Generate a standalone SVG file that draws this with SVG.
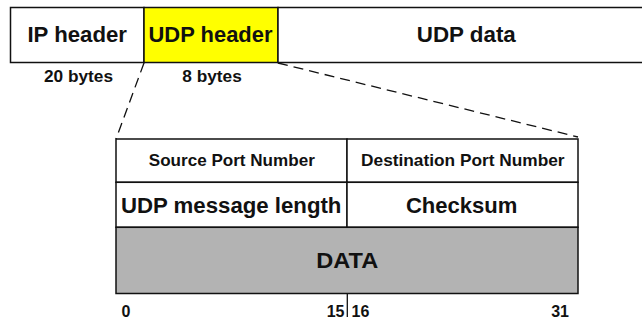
<svg xmlns="http://www.w3.org/2000/svg" width="642" height="324" viewBox="0 0 642 324">
<style>
.box{stroke:#111;stroke-width:1.5;fill:#fff}
.big{font-family:"Liberation Sans",Arial,sans-serif;font-weight:bold;font-size:22px;fill:#111;text-anchor:middle}
.small{font-family:"Liberation Sans",Arial,sans-serif;font-weight:bold;font-size:16.5px;fill:#111;text-anchor:middle}
.num{font-family:"Liberation Sans",Arial,sans-serif;font-weight:bold;font-size:16px;fill:#111}
.dash{stroke:#111;stroke-width:1.3;stroke-dasharray:10 6;fill:none}
.line{stroke:#111;stroke-width:1.3;fill:none}
</style>
<rect width="642" height="324" fill="#fff"/>
<g id="ip-header">
<rect class="box" x="10.5" y="7.5" width="133.5" height="55"/>
<text class="big" x="77.2" y="42" textLength="99.5" lengthAdjust="spacingAndGlyphs">IP header</text>
<text class="small" x="78.5" y="82" textLength="69" lengthAdjust="spacingAndGlyphs">20 bytes</text>
</g>
<g id="udp-header">
<rect class="box" x="144" y="7.5" width="134" height="55" style="fill:#ffff00"/>
<text class="big" x="210.5" y="42" textLength="124" lengthAdjust="spacingAndGlyphs">UDP header</text>
<text class="small" x="212" y="82" textLength="59.5" lengthAdjust="spacingAndGlyphs">8 bytes</text>
</g>
<g id="udp-data">
<rect class="box" x="278" y="7.5" width="380" height="55"/>
<text class="big" x="466.3" y="42" textLength="99" lengthAdjust="spacingAndGlyphs">UDP data</text>
</g>
<g id="connectors">
<line class="dash" x1="144" y1="63" x2="116" y2="139"/>
<line class="dash" x1="278" y1="63" x2="578" y2="137"/>
<line class="line" x1="347.3" y1="293.5" x2="347.3" y2="317"/>
</g>
<g id="source-port">
<rect class="box" x="116" y="139" width="231" height="43.3"/>
<text class="small" x="231.8" y="166.3" textLength="166" lengthAdjust="spacingAndGlyphs">Source Port Number</text>
</g>
<g id="dest-port">
<rect class="box" x="347" y="139" width="231" height="43.3"/>
<text class="small" x="462.8" y="166.3" textLength="203.5" lengthAdjust="spacingAndGlyphs">Destination Port Number</text>
</g>
<g id="length">
<rect class="box" x="116" y="182.3" width="231" height="45"/>
<text class="big" x="231.2" y="213" textLength="220.5" lengthAdjust="spacingAndGlyphs">UDP message length</text>
</g>
<g id="checksum">
<rect class="box" x="347" y="182.3" width="231" height="45"/>
<text class="big" x="461.7" y="213" textLength="111.5" lengthAdjust="spacingAndGlyphs">Checksum</text>
</g>
<g id="data">
<rect class="box" x="116" y="227.3" width="462" height="66.2" style="fill:#b3b3b3"/>
<text class="big" x="347.3" y="268" textLength="62" lengthAdjust="spacingAndGlyphs">DATA</text>
</g>
<g id="bit-labels">
<text class="num" x="121.5" y="316.5">0</text>
<text class="num" x="344.5" y="316.5" text-anchor="end">15</text>
<text class="num" x="351.5" y="316.5">16</text>
<text class="num" x="569" y="316.5" text-anchor="end">31</text>
</g>
</svg>
